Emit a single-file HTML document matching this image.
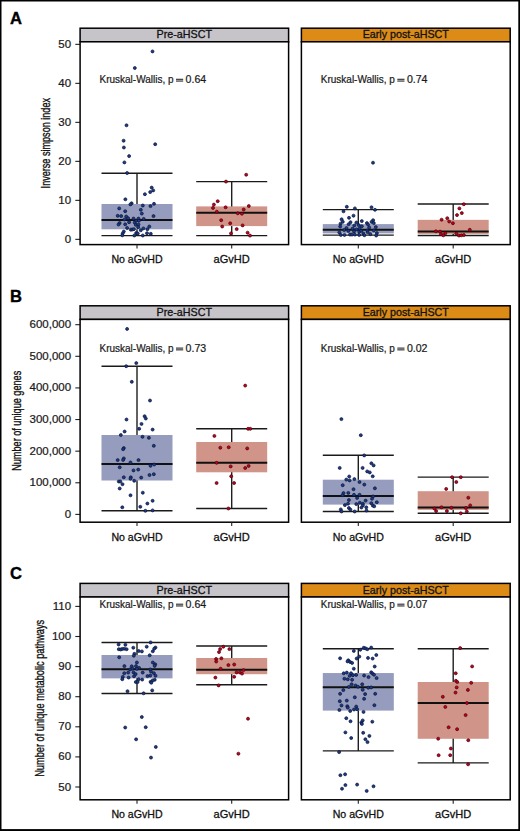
<!DOCTYPE html><html><head><meta charset="utf-8"><style>html,body{margin:0;padding:0;background:#fff;}svg{display:block;}</style></head><body><svg width="520" height="831" viewBox="0 0 520 831">
<rect x="0" y="0" width="520" height="831" fill="#fff"/>
<text x="10.0" y="24" font-family="'Liberation Sans', sans-serif" font-weight="bold" font-size="16.6" fill="#000" stroke="#000" stroke-width="0.35">A</text>
<text transform="translate(50.1,143.2) rotate(-90)" x="0" y="0" text-anchor="middle" font-family="'Liberation Sans', sans-serif" font-size="13" fill="#111" stroke="#111" stroke-width="0.35" textLength="90.4" lengthAdjust="spacingAndGlyphs">Inverse simpson index</text>
<line x1="75.3" y1="239.35" x2="80.1" y2="239.35" stroke="#222" stroke-width="1.1"/>
<text x="71.1" y="242.85" text-anchor="end" font-family="'Liberation Sans', sans-serif" font-size="10.8" fill="#1a1a1a" stroke="#1a1a1a" stroke-width="0.22" textLength="6.4" lengthAdjust="spacingAndGlyphs">0</text>
<line x1="75.3" y1="200.35" x2="80.1" y2="200.35" stroke="#222" stroke-width="1.1"/>
<text x="71.1" y="203.85" text-anchor="end" font-family="'Liberation Sans', sans-serif" font-size="10.8" fill="#1a1a1a" stroke="#1a1a1a" stroke-width="0.22" textLength="12.79" lengthAdjust="spacingAndGlyphs">10</text>
<line x1="75.3" y1="161.35" x2="80.1" y2="161.35" stroke="#222" stroke-width="1.1"/>
<text x="71.1" y="164.85" text-anchor="end" font-family="'Liberation Sans', sans-serif" font-size="10.8" fill="#1a1a1a" stroke="#1a1a1a" stroke-width="0.22" textLength="12.79" lengthAdjust="spacingAndGlyphs">20</text>
<line x1="75.3" y1="122.35" x2="80.1" y2="122.35" stroke="#222" stroke-width="1.1"/>
<text x="71.1" y="125.85" text-anchor="end" font-family="'Liberation Sans', sans-serif" font-size="10.8" fill="#1a1a1a" stroke="#1a1a1a" stroke-width="0.22" textLength="12.79" lengthAdjust="spacingAndGlyphs">30</text>
<line x1="75.3" y1="83.35" x2="80.1" y2="83.35" stroke="#222" stroke-width="1.1"/>
<text x="71.1" y="86.85" text-anchor="end" font-family="'Liberation Sans', sans-serif" font-size="10.8" fill="#1a1a1a" stroke="#1a1a1a" stroke-width="0.22" textLength="12.79" lengthAdjust="spacingAndGlyphs">40</text>
<line x1="75.3" y1="44.35" x2="80.1" y2="44.35" stroke="#222" stroke-width="1.1"/>
<text x="71.1" y="47.85" text-anchor="end" font-family="'Liberation Sans', sans-serif" font-size="10.8" fill="#1a1a1a" stroke="#1a1a1a" stroke-width="0.22" textLength="12.79" lengthAdjust="spacingAndGlyphs">50</text>
<rect x="80.1" y="28.2" width="208.5" height="13.6" fill="#c7c4c9" stroke="#000" stroke-width="1.5"/>
<text x="184.35" y="38.3" text-anchor="middle" font-family="'Liberation Sans', sans-serif" font-size="10.6" fill="#111" stroke="#111" stroke-width="0.3" textLength="55.6" lengthAdjust="spacingAndGlyphs">Pre-aHSCT</text>
<rect x="80.1" y="41.8" width="208.5" height="202.8" fill="#fff"/>
<text x="99.5" y="83" font-family="'Liberation Sans', sans-serif" font-size="10.4" fill="#1a1a1a" stroke="#1a1a1a" stroke-width="0.22" textLength="74.0" lengthAdjust="spacingAndGlyphs">Kruskal-Wallis, p</text>
<rect x="176" y="78.75" width="7.2" height="1.1" fill="#2a2a2a"/>
<rect x="176" y="80.5" width="7.2" height="1.1" fill="#2a2a2a"/>
<text x="185.6" y="83" font-family="'Liberation Sans', sans-serif" font-size="10.4" fill="#1a1a1a" stroke="#1a1a1a" stroke-width="0.22" textLength="20.6" lengthAdjust="spacingAndGlyphs">0.64</text>
<line x1="137" y1="173.2" x2="137" y2="235.6" stroke="#1e1e1e" stroke-width="1.4"/>
<line x1="101.5" y1="173.2" x2="172.5" y2="173.2" stroke="#1a1a1a" stroke-width="1.4"/>
<line x1="101.5" y1="235.6" x2="172.5" y2="235.6" stroke="#1a1a1a" stroke-width="1.4"/>
<rect x="101.5" y="204" width="71" height="25.3" fill="#959cbd"/>
<line x1="101.5" y1="220" x2="172.5" y2="220" stroke="#111" stroke-width="2"/>
<line x1="231.7" y1="181.6" x2="231.7" y2="235.6" stroke="#1e1e1e" stroke-width="1.4"/>
<line x1="196.2" y1="181.6" x2="267.2" y2="181.6" stroke="#1a1a1a" stroke-width="1.4"/>
<line x1="196.2" y1="235.6" x2="267.2" y2="235.6" stroke="#1a1a1a" stroke-width="1.4"/>
<rect x="196.2" y="206.4" width="71" height="19.7" fill="#d19488"/>
<line x1="196.2" y1="212.8" x2="267.2" y2="212.8" stroke="#111" stroke-width="2"/>
<g fill="#1c3b8a" stroke="#0a1434" stroke-width="0.7">
<circle cx="152.5" cy="51.4" r="1.5"/>
<circle cx="134.8" cy="68" r="1.5"/>
<circle cx="126.5" cy="125.3" r="1.5"/>
<circle cx="123.6" cy="140.7" r="1.5"/>
<circle cx="155.2" cy="144.2" r="1.5"/>
<circle cx="123.9" cy="147.5" r="1.5"/>
<circle cx="129.1" cy="156.1" r="1.5"/>
<circle cx="124.4" cy="162.4" r="1.5"/>
<circle cx="127.1" cy="173" r="1.5"/>
<circle cx="151.7" cy="187.6" r="1.5"/>
<circle cx="153.2" cy="190.4" r="1.5"/>
<circle cx="150.2" cy="192.1" r="1.5"/>
<circle cx="144.9" cy="194.2" r="1.5"/>
<circle cx="125.4" cy="199.3" r="1.5"/>
<circle cx="131.6" cy="203.3" r="1.5"/>
<circle cx="130.4" cy="204.4" r="1.5"/>
<circle cx="154" cy="203.8" r="1.5"/>
<circle cx="119.2" cy="208.4" r="1.5"/>
<circle cx="125.2" cy="211.2" r="1.5"/>
<circle cx="117.7" cy="215.8" r="1.5"/>
<circle cx="121.2" cy="216.1" r="1.5"/>
<circle cx="126.2" cy="216.5" r="1.5"/>
<circle cx="128.1" cy="218.2" r="1.5"/>
<circle cx="124.5" cy="219.5" r="1.5"/>
<circle cx="129.1" cy="222.2" r="1.5"/>
<circle cx="119.6" cy="223" r="1.5"/>
<circle cx="118.5" cy="224.5" r="1.5"/>
<circle cx="125.2" cy="224.3" r="1.5"/>
<circle cx="127.1" cy="228" r="1.5"/>
<circle cx="130.8" cy="229.7" r="1.5"/>
<circle cx="132.3" cy="229.5" r="1.5"/>
<circle cx="123.8" cy="231.5" r="1.5"/>
<circle cx="122.7" cy="233.4" r="1.5"/>
<circle cx="122.3" cy="235.3" r="1.5"/>
<circle cx="142.8" cy="205.5" r="1.5"/>
<circle cx="150.5" cy="206.1" r="1.5"/>
<circle cx="140.8" cy="209.8" r="1.5"/>
<circle cx="141.8" cy="213.6" r="1.5"/>
<circle cx="153.5" cy="216.1" r="1.5"/>
<circle cx="133.5" cy="218.6" r="1.5"/>
<circle cx="138.5" cy="218.6" r="1.5"/>
<circle cx="143.7" cy="218.9" r="1.5"/>
<circle cx="136.2" cy="220.7" r="1.5"/>
<circle cx="138.9" cy="220.7" r="1.5"/>
<circle cx="134.7" cy="222.6" r="1.5"/>
<circle cx="135.8" cy="224.8" r="1.5"/>
<circle cx="138.5" cy="224.5" r="1.5"/>
<circle cx="138.2" cy="227.2" r="1.5"/>
<circle cx="149.3" cy="226.5" r="1.5"/>
<circle cx="143.4" cy="228.4" r="1.5"/>
<circle cx="147.4" cy="229.2" r="1.5"/>
<circle cx="133.9" cy="229.2" r="1.5"/>
<circle cx="140.8" cy="230.3" r="1.5"/>
<circle cx="136.2" cy="233" r="1.5"/>
<circle cx="137.8" cy="233.5" r="1.5"/>
<circle cx="147" cy="233.2" r="1.5"/>
<circle cx="150.8" cy="233.8" r="1.5"/>
<circle cx="134.3" cy="235.5" r="1.5"/>
<circle cx="142.8" cy="235.5" r="1.5"/>
</g>
<g fill="#c4001a" stroke="#48000e" stroke-width="0.7">
<circle cx="246.2" cy="174.7" r="1.5"/>
<circle cx="226" cy="181.6" r="1.5"/>
<circle cx="217.7" cy="201.2" r="1.5"/>
<circle cx="213.9" cy="204.6" r="1.5"/>
<circle cx="213" cy="207.9" r="1.5"/>
<circle cx="225.6" cy="207.3" r="1.5"/>
<circle cx="216.8" cy="211.7" r="1.5"/>
<circle cx="248.8" cy="206" r="1.5"/>
<circle cx="243.7" cy="209.5" r="1.5"/>
<circle cx="237.8" cy="213.3" r="1.5"/>
<circle cx="241.9" cy="213.7" r="1.5"/>
<circle cx="221.2" cy="220.2" r="1.5"/>
<circle cx="230.2" cy="223.3" r="1.5"/>
<circle cx="222.2" cy="226.5" r="1.5"/>
<circle cx="242.6" cy="225.4" r="1.5"/>
<circle cx="236.7" cy="229.1" r="1.5"/>
<circle cx="231" cy="233.4" r="1.5"/>
<circle cx="247.6" cy="232.7" r="1.5"/>
<circle cx="250" cy="235.6" r="1.5"/>
</g>
<rect x="80.1" y="41.8" width="208.5" height="202.8" fill="none" stroke="#000" stroke-width="1.5"/>
<line x1="137" y1="244.6" x2="137" y2="248.5" stroke="#222" stroke-width="1.1"/>
<text x="137" y="263.2" text-anchor="middle" font-family="'Liberation Sans', sans-serif" font-size="10.4" fill="#111" stroke="#111" stroke-width="0.28" textLength="51.2" lengthAdjust="spacingAndGlyphs">No aGvHD</text>
<line x1="231.7" y1="244.6" x2="231.7" y2="248.5" stroke="#222" stroke-width="1.1"/>
<text x="231.7" y="263.2" text-anchor="middle" font-family="'Liberation Sans', sans-serif" font-size="10.4" fill="#111" stroke="#111" stroke-width="0.28" textLength="36.3" lengthAdjust="spacingAndGlyphs">aGvHD</text>
<rect x="301.4" y="28.2" width="208.8" height="13.6" fill="#dc8b17" stroke="#000" stroke-width="1.5"/>
<text x="405.8" y="38.3" text-anchor="middle" font-family="'Liberation Sans', sans-serif" font-size="10.6" fill="#111" stroke="#111" stroke-width="0.3" textLength="86.2" lengthAdjust="spacingAndGlyphs">Early post-aHSCT</text>
<rect x="301.4" y="41.8" width="208.8" height="202.8" fill="#fff"/>
<text x="320.8" y="83" font-family="'Liberation Sans', sans-serif" font-size="10.4" fill="#1a1a1a" stroke="#1a1a1a" stroke-width="0.22" textLength="74.0" lengthAdjust="spacingAndGlyphs">Kruskal-Wallis, p</text>
<rect x="397.3" y="78.75" width="7.2" height="1.1" fill="#2a2a2a"/>
<rect x="397.3" y="80.5" width="7.2" height="1.1" fill="#2a2a2a"/>
<text x="406.9" y="83" font-family="'Liberation Sans', sans-serif" font-size="10.4" fill="#1a1a1a" stroke="#1a1a1a" stroke-width="0.22" textLength="20.6" lengthAdjust="spacingAndGlyphs">0.74</text>
<line x1="358.3" y1="209.6" x2="358.3" y2="235.1" stroke="#1e1e1e" stroke-width="1.4"/>
<line x1="322.8" y1="209.6" x2="393.8" y2="209.6" stroke="#1a1a1a" stroke-width="1.4"/>
<line x1="322.8" y1="235.1" x2="393.8" y2="235.1" stroke="#1a1a1a" stroke-width="1.4"/>
<rect x="322.8" y="224.1" width="71" height="9.3" fill="#959cbd"/>
<line x1="322.8" y1="229.8" x2="393.8" y2="229.8" stroke="#111" stroke-width="2"/>
<line x1="453.2" y1="204" x2="453.2" y2="235.5" stroke="#1e1e1e" stroke-width="1.4"/>
<line x1="417.7" y1="204" x2="488.7" y2="204" stroke="#1a1a1a" stroke-width="1.4"/>
<line x1="417.7" y1="235.5" x2="488.7" y2="235.5" stroke="#1a1a1a" stroke-width="1.4"/>
<rect x="417.7" y="219.85" width="71" height="14.05" fill="#d19488"/>
<line x1="417.7" y1="231.45" x2="488.7" y2="231.45" stroke="#111" stroke-width="2"/>
<g fill="#1c3b8a" stroke="#0a1434" stroke-width="0.7">
<circle cx="373" cy="162.7" r="1.5"/>
<circle cx="346.8" cy="206.8" r="1.5"/>
<circle cx="354.9" cy="208.4" r="1.5"/>
<circle cx="343.5" cy="211.3" r="1.5"/>
<circle cx="353.5" cy="215.7" r="1.5"/>
<circle cx="349" cy="217.8" r="1.5"/>
<circle cx="341.6" cy="219.3" r="1.5"/>
<circle cx="342.8" cy="221.8" r="1.5"/>
<circle cx="361.8" cy="221.1" r="1.5"/>
<circle cx="350.5" cy="222.2" r="1.5"/>
<circle cx="356.4" cy="222.5" r="1.5"/>
<circle cx="340.5" cy="223.7" r="1.5"/>
<circle cx="348.6" cy="224.2" r="1.5"/>
<circle cx="340.2" cy="226.5" r="1.5"/>
<circle cx="354.3" cy="225.4" r="1.5"/>
<circle cx="358.7" cy="225.1" r="1.5"/>
<circle cx="361.8" cy="226.3" r="1.5"/>
<circle cx="346.5" cy="228" r="1.5"/>
<circle cx="352.6" cy="228.6" r="1.5"/>
<circle cx="356.4" cy="229.4" r="1.5"/>
<circle cx="359.5" cy="228.6" r="1.5"/>
<circle cx="344.2" cy="230" r="1.5"/>
<circle cx="348.3" cy="230.9" r="1.5"/>
<circle cx="354" cy="231.4" r="1.5"/>
<circle cx="339.3" cy="232.4" r="1.5"/>
<circle cx="359.2" cy="231.7" r="1.5"/>
<circle cx="363.3" cy="233.5" r="1.5"/>
<circle cx="340.8" cy="234.9" r="1.5"/>
<circle cx="344.5" cy="234.9" r="1.5"/>
<circle cx="350" cy="234.6" r="1.5"/>
<circle cx="352" cy="234.6" r="1.5"/>
<circle cx="354.9" cy="234.6" r="1.5"/>
<circle cx="359.2" cy="234.9" r="1.5"/>
<circle cx="364.4" cy="235.2" r="1.5"/>
<circle cx="371.5" cy="207.3" r="1.5"/>
<circle cx="375" cy="209.8" r="1.5"/>
<circle cx="373.1" cy="220.2" r="1.5"/>
<circle cx="371.5" cy="221.9" r="1.5"/>
<circle cx="373.8" cy="223.1" r="1.5"/>
<circle cx="366.9" cy="223.1" r="1.5"/>
<circle cx="368.1" cy="224.6" r="1.5"/>
<circle cx="375.8" cy="227.1" r="1.5"/>
<circle cx="369.2" cy="227.5" r="1.5"/>
<circle cx="367.3" cy="230.4" r="1.5"/>
<circle cx="373.8" cy="230.4" r="1.5"/>
<circle cx="361.2" cy="230.8" r="1.5"/>
<circle cx="367.7" cy="232.3" r="1.5"/>
<circle cx="376.9" cy="233.1" r="1.5"/>
<circle cx="370.4" cy="234.2" r="1.5"/>
<circle cx="376.2" cy="235.5" r="1.5"/>
</g>
<g fill="#c4001a" stroke="#48000e" stroke-width="0.7">
<circle cx="463.8" cy="204.2" r="1.5"/>
<circle cx="459.4" cy="208.4" r="1.5"/>
<circle cx="461.8" cy="213.1" r="1.5"/>
<circle cx="457" cy="215.1" r="1.5"/>
<circle cx="441.6" cy="219.7" r="1.5"/>
<circle cx="447.3" cy="218.2" r="1.5"/>
<circle cx="449.2" cy="221.5" r="1.5"/>
<circle cx="452.9" cy="223.2" r="1.5"/>
<circle cx="469.8" cy="229.8" r="1.5"/>
<circle cx="435.9" cy="231.3" r="1.5"/>
<circle cx="440" cy="231.6" r="1.5"/>
<circle cx="441" cy="234.2" r="1.5"/>
<circle cx="445.3" cy="233.3" r="1.5"/>
<circle cx="443.3" cy="235.3" r="1.5"/>
<circle cx="456.3" cy="233.6" r="1.5"/>
<circle cx="458.9" cy="235.5" r="1.5"/>
<circle cx="461.3" cy="235.3" r="1.5"/>
<circle cx="463.8" cy="235" r="1.5"/>
</g>
<rect x="301.4" y="41.8" width="208.8" height="202.8" fill="none" stroke="#000" stroke-width="1.5"/>
<line x1="358.3" y1="244.6" x2="358.3" y2="248.5" stroke="#222" stroke-width="1.1"/>
<text x="358.3" y="263.2" text-anchor="middle" font-family="'Liberation Sans', sans-serif" font-size="10.4" fill="#111" stroke="#111" stroke-width="0.28" textLength="51.2" lengthAdjust="spacingAndGlyphs">No aGvHD</text>
<line x1="453.2" y1="244.6" x2="453.2" y2="248.5" stroke="#222" stroke-width="1.1"/>
<text x="453.2" y="263.2" text-anchor="middle" font-family="'Liberation Sans', sans-serif" font-size="10.4" fill="#111" stroke="#111" stroke-width="0.28" textLength="36.3" lengthAdjust="spacingAndGlyphs">aGvHD</text>
<text x="10.0" y="301.6" font-family="'Liberation Sans', sans-serif" font-weight="bold" font-size="16.6" fill="#000" stroke="#000" stroke-width="0.35">B</text>
<text transform="translate(21.2,420.8) rotate(-90)" x="0" y="0" text-anchor="middle" font-family="'Liberation Sans', sans-serif" font-size="13" fill="#111" stroke="#111" stroke-width="0.35" textLength="100.0" lengthAdjust="spacingAndGlyphs">Number of unique genes</text>
<line x1="75.3" y1="514.4" x2="80.1" y2="514.4" stroke="#222" stroke-width="1.1"/>
<text x="71.1" y="517.9" text-anchor="end" font-family="'Liberation Sans', sans-serif" font-size="10.8" fill="#1a1a1a" stroke="#1a1a1a" stroke-width="0.22" textLength="6.4" lengthAdjust="spacingAndGlyphs">0</text>
<line x1="75.3" y1="482.78" x2="80.1" y2="482.78" stroke="#222" stroke-width="1.1"/>
<text x="71.1" y="486.28" text-anchor="end" font-family="'Liberation Sans', sans-serif" font-size="10.8" fill="#1a1a1a" stroke="#1a1a1a" stroke-width="0.22" textLength="41.57" lengthAdjust="spacingAndGlyphs">100,000</text>
<line x1="75.3" y1="451.16" x2="80.1" y2="451.16" stroke="#222" stroke-width="1.1"/>
<text x="71.1" y="454.66" text-anchor="end" font-family="'Liberation Sans', sans-serif" font-size="10.8" fill="#1a1a1a" stroke="#1a1a1a" stroke-width="0.22" textLength="41.57" lengthAdjust="spacingAndGlyphs">200,000</text>
<line x1="75.3" y1="419.54" x2="80.1" y2="419.54" stroke="#222" stroke-width="1.1"/>
<text x="71.1" y="423.04" text-anchor="end" font-family="'Liberation Sans', sans-serif" font-size="10.8" fill="#1a1a1a" stroke="#1a1a1a" stroke-width="0.22" textLength="41.57" lengthAdjust="spacingAndGlyphs">300,000</text>
<line x1="75.3" y1="387.92" x2="80.1" y2="387.92" stroke="#222" stroke-width="1.1"/>
<text x="71.1" y="391.42" text-anchor="end" font-family="'Liberation Sans', sans-serif" font-size="10.8" fill="#1a1a1a" stroke="#1a1a1a" stroke-width="0.22" textLength="41.57" lengthAdjust="spacingAndGlyphs">400,000</text>
<line x1="75.3" y1="356.3" x2="80.1" y2="356.3" stroke="#222" stroke-width="1.1"/>
<text x="71.1" y="359.8" text-anchor="end" font-family="'Liberation Sans', sans-serif" font-size="10.8" fill="#1a1a1a" stroke="#1a1a1a" stroke-width="0.22" textLength="41.57" lengthAdjust="spacingAndGlyphs">500,000</text>
<line x1="75.3" y1="324.68" x2="80.1" y2="324.68" stroke="#222" stroke-width="1.1"/>
<text x="71.1" y="328.18" text-anchor="end" font-family="'Liberation Sans', sans-serif" font-size="10.8" fill="#1a1a1a" stroke="#1a1a1a" stroke-width="0.22" textLength="41.57" lengthAdjust="spacingAndGlyphs">600,000</text>
<rect x="80.1" y="305.8" width="208.5" height="13.6" fill="#c7c4c9" stroke="#000" stroke-width="1.5"/>
<text x="184.35" y="315.9" text-anchor="middle" font-family="'Liberation Sans', sans-serif" font-size="10.6" fill="#111" stroke="#111" stroke-width="0.3" textLength="55.6" lengthAdjust="spacingAndGlyphs">Pre-aHSCT</text>
<rect x="80.1" y="319.4" width="208.5" height="202.8" fill="#fff"/>
<text x="99.5" y="351.8" font-family="'Liberation Sans', sans-serif" font-size="10.4" fill="#1a1a1a" stroke="#1a1a1a" stroke-width="0.22" textLength="74.0" lengthAdjust="spacingAndGlyphs">Kruskal-Wallis, p</text>
<rect x="176" y="347.55" width="7.2" height="1.1" fill="#2a2a2a"/>
<rect x="176" y="349.3" width="7.2" height="1.1" fill="#2a2a2a"/>
<text x="185.6" y="351.8" font-family="'Liberation Sans', sans-serif" font-size="10.4" fill="#1a1a1a" stroke="#1a1a1a" stroke-width="0.22" textLength="20.6" lengthAdjust="spacingAndGlyphs">0.73</text>
<line x1="137" y1="366.3" x2="137" y2="510.7" stroke="#1e1e1e" stroke-width="1.4"/>
<line x1="101.5" y1="366.3" x2="172.5" y2="366.3" stroke="#1a1a1a" stroke-width="1.4"/>
<line x1="101.5" y1="510.7" x2="172.5" y2="510.7" stroke="#1a1a1a" stroke-width="1.4"/>
<rect x="101.5" y="435" width="71" height="45.5" fill="#959cbd"/>
<line x1="101.5" y1="464" x2="172.5" y2="464" stroke="#111" stroke-width="2"/>
<line x1="231.7" y1="428.8" x2="231.7" y2="508.5" stroke="#1e1e1e" stroke-width="1.4"/>
<line x1="196.2" y1="428.8" x2="267.2" y2="428.8" stroke="#1a1a1a" stroke-width="1.4"/>
<line x1="196.2" y1="508.5" x2="267.2" y2="508.5" stroke="#1a1a1a" stroke-width="1.4"/>
<rect x="196.2" y="442" width="71" height="30.3" fill="#d19488"/>
<line x1="196.2" y1="462.8" x2="267.2" y2="462.8" stroke="#111" stroke-width="2"/>
<g fill="#1c3b8a" stroke="#0a1434" stroke-width="0.7">
<circle cx="127.1" cy="328.9" r="1.5"/>
<circle cx="136.3" cy="363.1" r="1.5"/>
<circle cx="126.2" cy="366.2" r="1.5"/>
<circle cx="131.8" cy="381.8" r="1.5"/>
<circle cx="150" cy="400.5" r="1.5"/>
<circle cx="144.6" cy="416.2" r="1.5"/>
<circle cx="145.8" cy="418.5" r="1.5"/>
<circle cx="126.5" cy="419.5" r="1.5"/>
<circle cx="141.5" cy="423.9" r="1.5"/>
<circle cx="139.2" cy="428.8" r="1.5"/>
<circle cx="152.6" cy="429.6" r="1.5"/>
<circle cx="124.6" cy="431.5" r="1.5"/>
<circle cx="120.8" cy="435" r="1.5"/>
<circle cx="142.5" cy="436.8" r="1.5"/>
<circle cx="148.9" cy="437.8" r="1.5"/>
<circle cx="153.8" cy="445.8" r="1.5"/>
<circle cx="123.8" cy="448.1" r="1.5"/>
<circle cx="123.1" cy="449.2" r="1.5"/>
<circle cx="123.8" cy="458.4" r="1.5"/>
<circle cx="123.1" cy="459.9" r="1.5"/>
<circle cx="117.7" cy="460.1" r="1.5"/>
<circle cx="138.5" cy="460.1" r="1.5"/>
<circle cx="130.5" cy="462.4" r="1.5"/>
<circle cx="119.7" cy="467.3" r="1.5"/>
<circle cx="150.5" cy="465.8" r="1.5"/>
<circle cx="154.2" cy="464.5" r="1.5"/>
<circle cx="133.5" cy="470.4" r="1.5"/>
<circle cx="138.2" cy="469.6" r="1.5"/>
<circle cx="149.5" cy="475" r="1.5"/>
<circle cx="153.8" cy="474.2" r="1.5"/>
<circle cx="123.8" cy="477.3" r="1.5"/>
<circle cx="130.8" cy="477.3" r="1.5"/>
<circle cx="130.5" cy="478.8" r="1.5"/>
<circle cx="141.2" cy="477.6" r="1.5"/>
<circle cx="134.2" cy="480.8" r="1.5"/>
<circle cx="118.8" cy="481.5" r="1.5"/>
<circle cx="120.3" cy="481.5" r="1.5"/>
<circle cx="122.5" cy="484.2" r="1.5"/>
<circle cx="119.7" cy="488.5" r="1.5"/>
<circle cx="142.8" cy="492.7" r="1.5"/>
<circle cx="130.5" cy="495.3" r="1.5"/>
<circle cx="152.6" cy="500.8" r="1.5"/>
<circle cx="147.4" cy="503.5" r="1.5"/>
<circle cx="122.3" cy="507.3" r="1.5"/>
<circle cx="140.3" cy="506.8" r="1.5"/>
<circle cx="145.4" cy="510.8" r="1.5"/>
<circle cx="152.6" cy="510.4" r="1.5"/>
</g>
<g fill="#c4001a" stroke="#48000e" stroke-width="0.7">
<circle cx="245.2" cy="385.6" r="1.5"/>
<circle cx="248.1" cy="428.8" r="1.5"/>
<circle cx="250.3" cy="428.8" r="1.5"/>
<circle cx="214.4" cy="435.9" r="1.5"/>
<circle cx="220.3" cy="447.7" r="1.5"/>
<circle cx="228.7" cy="447.3" r="1.5"/>
<circle cx="247.2" cy="448.4" r="1.5"/>
<circle cx="216.6" cy="462.8" r="1.5"/>
<circle cx="230.7" cy="466.4" r="1.5"/>
<circle cx="248.6" cy="465.9" r="1.5"/>
<circle cx="245.2" cy="468" r="1.5"/>
<circle cx="231.2" cy="476.3" r="1.5"/>
<circle cx="216.6" cy="483" r="1.5"/>
<circle cx="234.1" cy="483" r="1.5"/>
<circle cx="228.4" cy="508.5" r="1.5"/>
</g>
<rect x="80.1" y="319.4" width="208.5" height="202.8" fill="none" stroke="#000" stroke-width="1.5"/>
<line x1="137" y1="522.2" x2="137" y2="526.1" stroke="#222" stroke-width="1.1"/>
<text x="137" y="540.8" text-anchor="middle" font-family="'Liberation Sans', sans-serif" font-size="10.4" fill="#111" stroke="#111" stroke-width="0.28" textLength="51.2" lengthAdjust="spacingAndGlyphs">No aGvHD</text>
<line x1="231.7" y1="522.2" x2="231.7" y2="526.1" stroke="#222" stroke-width="1.1"/>
<text x="231.7" y="540.8" text-anchor="middle" font-family="'Liberation Sans', sans-serif" font-size="10.4" fill="#111" stroke="#111" stroke-width="0.28" textLength="36.3" lengthAdjust="spacingAndGlyphs">aGvHD</text>
<rect x="301.4" y="305.8" width="208.8" height="13.6" fill="#dc8b17" stroke="#000" stroke-width="1.5"/>
<text x="405.8" y="315.9" text-anchor="middle" font-family="'Liberation Sans', sans-serif" font-size="10.6" fill="#111" stroke="#111" stroke-width="0.3" textLength="86.2" lengthAdjust="spacingAndGlyphs">Early post-aHSCT</text>
<rect x="301.4" y="319.4" width="208.8" height="202.8" fill="#fff"/>
<text x="320.8" y="351.8" font-family="'Liberation Sans', sans-serif" font-size="10.4" fill="#1a1a1a" stroke="#1a1a1a" stroke-width="0.22" textLength="74.0" lengthAdjust="spacingAndGlyphs">Kruskal-Wallis, p</text>
<rect x="397.3" y="347.55" width="7.2" height="1.1" fill="#2a2a2a"/>
<rect x="397.3" y="349.3" width="7.2" height="1.1" fill="#2a2a2a"/>
<text x="406.9" y="351.8" font-family="'Liberation Sans', sans-serif" font-size="10.4" fill="#1a1a1a" stroke="#1a1a1a" stroke-width="0.22" textLength="20.6" lengthAdjust="spacingAndGlyphs">0.02</text>
<line x1="358.3" y1="455.3" x2="358.3" y2="511.55" stroke="#1e1e1e" stroke-width="1.4"/>
<line x1="322.8" y1="455.3" x2="393.8" y2="455.3" stroke="#1a1a1a" stroke-width="1.4"/>
<line x1="322.8" y1="511.55" x2="393.8" y2="511.55" stroke="#1a1a1a" stroke-width="1.4"/>
<rect x="322.8" y="479.7" width="71" height="24.9" fill="#959cbd"/>
<line x1="322.8" y1="495.9" x2="393.8" y2="495.9" stroke="#111" stroke-width="2"/>
<line x1="453.2" y1="477.15" x2="453.2" y2="513.2" stroke="#1e1e1e" stroke-width="1.4"/>
<line x1="417.7" y1="477.15" x2="488.7" y2="477.15" stroke="#1a1a1a" stroke-width="1.4"/>
<line x1="417.7" y1="513.2" x2="488.7" y2="513.2" stroke="#1a1a1a" stroke-width="1.4"/>
<rect x="417.7" y="491.2" width="71" height="18.7" fill="#d19488"/>
<line x1="417.7" y1="507.5" x2="488.7" y2="507.5" stroke="#111" stroke-width="2"/>
<g fill="#1c3b8a" stroke="#0a1434" stroke-width="0.7">
<circle cx="341.4" cy="419.1" r="1.5"/>
<circle cx="360.8" cy="435.2" r="1.5"/>
<circle cx="364.2" cy="455.4" r="1.5"/>
<circle cx="371.4" cy="463.3" r="1.5"/>
<circle cx="373.6" cy="465.4" r="1.5"/>
<circle cx="339.7" cy="467.9" r="1.5"/>
<circle cx="362.6" cy="467.9" r="1.5"/>
<circle cx="367.2" cy="471.4" r="1.5"/>
<circle cx="369.8" cy="472.4" r="1.5"/>
<circle cx="372.7" cy="476.3" r="1.5"/>
<circle cx="349.2" cy="476.5" r="1.5"/>
<circle cx="346.3" cy="479.6" r="1.5"/>
<circle cx="349.6" cy="480.4" r="1.5"/>
<circle cx="354.4" cy="479.1" r="1.5"/>
<circle cx="359.5" cy="482" r="1.5"/>
<circle cx="364.3" cy="484.6" r="1.5"/>
<circle cx="342.7" cy="485.2" r="1.5"/>
<circle cx="374.9" cy="488.3" r="1.5"/>
<circle cx="353.5" cy="489.2" r="1.5"/>
<circle cx="343.5" cy="493.1" r="1.5"/>
<circle cx="348.3" cy="492.9" r="1.5"/>
<circle cx="342.5" cy="495.2" r="1.5"/>
<circle cx="354" cy="494.8" r="1.5"/>
<circle cx="359.5" cy="494.8" r="1.5"/>
<circle cx="357.1" cy="497.9" r="1.5"/>
<circle cx="373" cy="496.4" r="1.5"/>
<circle cx="372" cy="498.7" r="1.5"/>
<circle cx="348.9" cy="500" r="1.5"/>
<circle cx="365.6" cy="500.6" r="1.5"/>
<circle cx="376.8" cy="502.2" r="1.5"/>
<circle cx="371.3" cy="503.2" r="1.5"/>
<circle cx="348" cy="503.7" r="1.5"/>
<circle cx="344.9" cy="505.1" r="1.5"/>
<circle cx="356.3" cy="504.1" r="1.5"/>
<circle cx="359.8" cy="502.7" r="1.5"/>
<circle cx="362.9" cy="503.7" r="1.5"/>
<circle cx="362.9" cy="505.4" r="1.5"/>
<circle cx="372.8" cy="505.6" r="1.5"/>
<circle cx="374.2" cy="506.3" r="1.5"/>
<circle cx="361.4" cy="507.5" r="1.5"/>
<circle cx="366.3" cy="507.3" r="1.5"/>
<circle cx="348.9" cy="508" r="1.5"/>
<circle cx="350.4" cy="509.6" r="1.5"/>
<circle cx="340.8" cy="509.4" r="1.5"/>
<circle cx="341.5" cy="511.5" r="1.5"/>
<circle cx="354.7" cy="511.5" r="1.5"/>
<circle cx="366.5" cy="510.6" r="1.5"/>
</g>
<g fill="#c4001a" stroke="#48000e" stroke-width="0.7">
<circle cx="452.1" cy="477.2" r="1.5"/>
<circle cx="460.8" cy="477.2" r="1.5"/>
<circle cx="456.3" cy="482" r="1.5"/>
<circle cx="446.2" cy="488.9" r="1.5"/>
<circle cx="468.3" cy="497.7" r="1.5"/>
<circle cx="470.2" cy="505.4" r="1.5"/>
<circle cx="441.5" cy="507.3" r="1.5"/>
<circle cx="451.4" cy="507.8" r="1.5"/>
<circle cx="465.9" cy="508" r="1.5"/>
<circle cx="434.4" cy="508.5" r="1.5"/>
<circle cx="436.1" cy="511.1" r="1.5"/>
<circle cx="446.9" cy="511.1" r="1.5"/>
<circle cx="466.8" cy="511.5" r="1.5"/>
<circle cx="460.8" cy="513.3" r="1.5"/>
</g>
<rect x="301.4" y="319.4" width="208.8" height="202.8" fill="none" stroke="#000" stroke-width="1.5"/>
<line x1="358.3" y1="522.2" x2="358.3" y2="526.1" stroke="#222" stroke-width="1.1"/>
<text x="358.3" y="540.8" text-anchor="middle" font-family="'Liberation Sans', sans-serif" font-size="10.4" fill="#111" stroke="#111" stroke-width="0.28" textLength="51.2" lengthAdjust="spacingAndGlyphs">No aGvHD</text>
<line x1="453.2" y1="522.2" x2="453.2" y2="526.1" stroke="#222" stroke-width="1.1"/>
<text x="453.2" y="540.8" text-anchor="middle" font-family="'Liberation Sans', sans-serif" font-size="10.4" fill="#111" stroke="#111" stroke-width="0.28" textLength="36.3" lengthAdjust="spacingAndGlyphs">aGvHD</text>
<text x="10.0" y="579" font-family="'Liberation Sans', sans-serif" font-weight="bold" font-size="16.6" fill="#000" stroke="#000" stroke-width="0.35">C</text>
<text transform="translate(43.9,698.3) rotate(-90)" x="0" y="0" text-anchor="middle" font-family="'Liberation Sans', sans-serif" font-size="13" fill="#111" stroke="#111" stroke-width="0.35" textLength="157.0" lengthAdjust="spacingAndGlyphs">Number of unique metabolic pathways</text>
<line x1="75.3" y1="787" x2="80.1" y2="787" stroke="#222" stroke-width="1.1"/>
<text x="71.1" y="790.5" text-anchor="end" font-family="'Liberation Sans', sans-serif" font-size="10.8" fill="#1a1a1a" stroke="#1a1a1a" stroke-width="0.22" textLength="12.79" lengthAdjust="spacingAndGlyphs">50</text>
<line x1="75.3" y1="756.9" x2="80.1" y2="756.9" stroke="#222" stroke-width="1.1"/>
<text x="71.1" y="760.4" text-anchor="end" font-family="'Liberation Sans', sans-serif" font-size="10.8" fill="#1a1a1a" stroke="#1a1a1a" stroke-width="0.22" textLength="12.79" lengthAdjust="spacingAndGlyphs">60</text>
<line x1="75.3" y1="726.8" x2="80.1" y2="726.8" stroke="#222" stroke-width="1.1"/>
<text x="71.1" y="730.3" text-anchor="end" font-family="'Liberation Sans', sans-serif" font-size="10.8" fill="#1a1a1a" stroke="#1a1a1a" stroke-width="0.22" textLength="12.79" lengthAdjust="spacingAndGlyphs">70</text>
<line x1="75.3" y1="696.7" x2="80.1" y2="696.7" stroke="#222" stroke-width="1.1"/>
<text x="71.1" y="700.2" text-anchor="end" font-family="'Liberation Sans', sans-serif" font-size="10.8" fill="#1a1a1a" stroke="#1a1a1a" stroke-width="0.22" textLength="12.79" lengthAdjust="spacingAndGlyphs">80</text>
<line x1="75.3" y1="666.6" x2="80.1" y2="666.6" stroke="#222" stroke-width="1.1"/>
<text x="71.1" y="670.1" text-anchor="end" font-family="'Liberation Sans', sans-serif" font-size="10.8" fill="#1a1a1a" stroke="#1a1a1a" stroke-width="0.22" textLength="12.79" lengthAdjust="spacingAndGlyphs">90</text>
<line x1="75.3" y1="636.5" x2="80.1" y2="636.5" stroke="#222" stroke-width="1.1"/>
<text x="71.1" y="640" text-anchor="end" font-family="'Liberation Sans', sans-serif" font-size="10.8" fill="#1a1a1a" stroke="#1a1a1a" stroke-width="0.22" textLength="19.19" lengthAdjust="spacingAndGlyphs">100</text>
<line x1="75.3" y1="606.4" x2="80.1" y2="606.4" stroke="#222" stroke-width="1.1"/>
<text x="71.1" y="609.9" text-anchor="end" font-family="'Liberation Sans', sans-serif" font-size="10.8" fill="#1a1a1a" stroke="#1a1a1a" stroke-width="0.22" textLength="18.33" lengthAdjust="spacingAndGlyphs">110</text>
<rect x="80.1" y="583.4" width="208.5" height="13.6" fill="#c7c4c9" stroke="#000" stroke-width="1.5"/>
<text x="184.35" y="593.5" text-anchor="middle" font-family="'Liberation Sans', sans-serif" font-size="10.6" fill="#111" stroke="#111" stroke-width="0.3" textLength="55.6" lengthAdjust="spacingAndGlyphs">Pre-aHSCT</text>
<rect x="80.1" y="597" width="208.5" height="202.8" fill="#fff"/>
<text x="99.5" y="607.9" font-family="'Liberation Sans', sans-serif" font-size="10.4" fill="#1a1a1a" stroke="#1a1a1a" stroke-width="0.22" textLength="74.0" lengthAdjust="spacingAndGlyphs">Kruskal-Wallis, p</text>
<rect x="176" y="603.65" width="7.2" height="1.1" fill="#2a2a2a"/>
<rect x="176" y="605.4" width="7.2" height="1.1" fill="#2a2a2a"/>
<text x="185.6" y="607.9" font-family="'Liberation Sans', sans-serif" font-size="10.4" fill="#1a1a1a" stroke="#1a1a1a" stroke-width="0.22" textLength="20.6" lengthAdjust="spacingAndGlyphs">0.64</text>
<line x1="137" y1="642.5" x2="137" y2="693.5" stroke="#1e1e1e" stroke-width="1.4"/>
<line x1="101.5" y1="642.5" x2="172.5" y2="642.5" stroke="#1a1a1a" stroke-width="1.4"/>
<line x1="101.5" y1="693.5" x2="172.5" y2="693.5" stroke="#1a1a1a" stroke-width="1.4"/>
<rect x="101.5" y="655" width="71" height="23.35" fill="#959cbd"/>
<line x1="101.5" y1="669.2" x2="172.5" y2="669.2" stroke="#111" stroke-width="2"/>
<line x1="231.7" y1="646" x2="231.7" y2="684.8" stroke="#1e1e1e" stroke-width="1.4"/>
<line x1="196.2" y1="646" x2="267.2" y2="646" stroke="#1a1a1a" stroke-width="1.4"/>
<line x1="196.2" y1="684.8" x2="267.2" y2="684.8" stroke="#1a1a1a" stroke-width="1.4"/>
<rect x="196.2" y="658" width="71" height="16.2" fill="#d19488"/>
<line x1="196.2" y1="669.7" x2="267.2" y2="669.7" stroke="#111" stroke-width="2"/>
<g fill="#1c3b8a" stroke="#0a1434" stroke-width="0.7">
<circle cx="141.8" cy="717" r="1.5"/>
<circle cx="125.2" cy="727.5" r="1.5"/>
<circle cx="145.7" cy="727.2" r="1.5"/>
<circle cx="136.1" cy="739.3" r="1.5"/>
<circle cx="155.8" cy="746.9" r="1.5"/>
<circle cx="151" cy="757.6" r="1.5"/>
<circle cx="118.6" cy="644.5" r="1.5"/>
<circle cx="125.4" cy="644.8" r="1.5"/>
<circle cx="118.8" cy="649.2" r="1.5"/>
<circle cx="120.7" cy="649.5" r="1.5"/>
<circle cx="122.3" cy="648.9" r="1.5"/>
<circle cx="124.3" cy="648.7" r="1.5"/>
<circle cx="126.6" cy="649.2" r="1.5"/>
<circle cx="133.3" cy="647.7" r="1.5"/>
<circle cx="138.7" cy="651" r="1.5"/>
<circle cx="134.4" cy="653.8" r="1.5"/>
<circle cx="133.8" cy="655.7" r="1.5"/>
<circle cx="119.2" cy="657.3" r="1.5"/>
<circle cx="136.9" cy="662.5" r="1.5"/>
<circle cx="124.4" cy="666.1" r="1.5"/>
<circle cx="131.7" cy="666.3" r="1.5"/>
<circle cx="136" cy="666.1" r="1.5"/>
<circle cx="139.1" cy="667.9" r="1.5"/>
<circle cx="130.1" cy="669.4" r="1.5"/>
<circle cx="132.5" cy="668.6" r="1.5"/>
<circle cx="136.8" cy="668.8" r="1.5"/>
<circle cx="128.2" cy="672.6" r="1.5"/>
<circle cx="124.3" cy="673.2" r="1.5"/>
<circle cx="133.5" cy="672.4" r="1.5"/>
<circle cx="135.6" cy="674.1" r="1.5"/>
<circle cx="134" cy="676.3" r="1.5"/>
<circle cx="122.8" cy="676.9" r="1.5"/>
<circle cx="122.3" cy="679.2" r="1.5"/>
<circle cx="128.6" cy="677.6" r="1.5"/>
<circle cx="138.7" cy="679.2" r="1.5"/>
<circle cx="135.8" cy="682" r="1.5"/>
<circle cx="137.6" cy="682" r="1.5"/>
<circle cx="127.5" cy="691.2" r="1.5"/>
<circle cx="150.6" cy="642.4" r="1.5"/>
<circle cx="146.7" cy="646.7" r="1.5"/>
<circle cx="155.5" cy="647.5" r="1.5"/>
<circle cx="154.2" cy="648.7" r="1.5"/>
<circle cx="152.8" cy="651.3" r="1.5"/>
<circle cx="141.9" cy="651.4" r="1.5"/>
<circle cx="149.7" cy="655.3" r="1.5"/>
<circle cx="152.8" cy="662.5" r="1.5"/>
<circle cx="155.2" cy="664.3" r="1.5"/>
<circle cx="154.6" cy="665.9" r="1.5"/>
<circle cx="150.3" cy="669.4" r="1.5"/>
<circle cx="151" cy="671.6" r="1.5"/>
<circle cx="142.7" cy="672.6" r="1.5"/>
<circle cx="153.9" cy="673.2" r="1.5"/>
<circle cx="147.5" cy="676.1" r="1.5"/>
<circle cx="150.3" cy="675.5" r="1.5"/>
<circle cx="155.5" cy="675.7" r="1.5"/>
<circle cx="142.2" cy="679.6" r="1.5"/>
<circle cx="154.7" cy="679.8" r="1.5"/>
<circle cx="152.6" cy="680.5" r="1.5"/>
<circle cx="150.6" cy="681.8" r="1.5"/>
<circle cx="151.3" cy="682.7" r="1.5"/>
<circle cx="152.2" cy="690.4" r="1.5"/>
<circle cx="143.6" cy="693.3" r="1.5"/>
</g>
<g fill="#c4001a" stroke="#48000e" stroke-width="0.7">
<circle cx="223.3" cy="646.7" r="1.5"/>
<circle cx="220.1" cy="649.1" r="1.5"/>
<circle cx="229.4" cy="649.1" r="1.5"/>
<circle cx="219" cy="652.1" r="1.5"/>
<circle cx="216.1" cy="658.9" r="1.5"/>
<circle cx="221.4" cy="658.3" r="1.5"/>
<circle cx="216.2" cy="661.5" r="1.5"/>
<circle cx="228.4" cy="665.1" r="1.5"/>
<circle cx="234.2" cy="664.5" r="1.5"/>
<circle cx="220.6" cy="668.7" r="1.5"/>
<circle cx="243.5" cy="670.1" r="1.5"/>
<circle cx="236.6" cy="672.4" r="1.5"/>
<circle cx="240" cy="672.4" r="1.5"/>
<circle cx="242" cy="673.6" r="1.5"/>
<circle cx="234.2" cy="676.8" r="1.5"/>
<circle cx="215.4" cy="677.6" r="1.5"/>
<circle cx="218.6" cy="685.4" r="1.5"/>
<circle cx="248" cy="718.7" r="1.5"/>
<circle cx="238.4" cy="753.7" r="1.5"/>
</g>
<rect x="80.1" y="597" width="208.5" height="202.8" fill="none" stroke="#000" stroke-width="1.5"/>
<line x1="137" y1="799.8" x2="137" y2="803.7" stroke="#222" stroke-width="1.1"/>
<text x="137" y="818.4" text-anchor="middle" font-family="'Liberation Sans', sans-serif" font-size="10.4" fill="#111" stroke="#111" stroke-width="0.28" textLength="51.2" lengthAdjust="spacingAndGlyphs">No aGvHD</text>
<line x1="231.7" y1="799.8" x2="231.7" y2="803.7" stroke="#222" stroke-width="1.1"/>
<text x="231.7" y="818.4" text-anchor="middle" font-family="'Liberation Sans', sans-serif" font-size="10.4" fill="#111" stroke="#111" stroke-width="0.28" textLength="36.3" lengthAdjust="spacingAndGlyphs">aGvHD</text>
<rect x="301.4" y="583.4" width="208.8" height="13.6" fill="#dc8b17" stroke="#000" stroke-width="1.5"/>
<text x="405.8" y="593.5" text-anchor="middle" font-family="'Liberation Sans', sans-serif" font-size="10.6" fill="#111" stroke="#111" stroke-width="0.3" textLength="86.2" lengthAdjust="spacingAndGlyphs">Early post-aHSCT</text>
<rect x="301.4" y="597" width="208.8" height="202.8" fill="#fff"/>
<text x="320.8" y="607.9" font-family="'Liberation Sans', sans-serif" font-size="10.4" fill="#1a1a1a" stroke="#1a1a1a" stroke-width="0.22" textLength="74.0" lengthAdjust="spacingAndGlyphs">Kruskal-Wallis, p</text>
<rect x="397.3" y="603.65" width="7.2" height="1.1" fill="#2a2a2a"/>
<rect x="397.3" y="605.4" width="7.2" height="1.1" fill="#2a2a2a"/>
<text x="406.9" y="607.9" font-family="'Liberation Sans', sans-serif" font-size="10.4" fill="#1a1a1a" stroke="#1a1a1a" stroke-width="0.22" textLength="20.6" lengthAdjust="spacingAndGlyphs">0.07</text>
<line x1="358.3" y1="648.7" x2="358.3" y2="750.9" stroke="#1e1e1e" stroke-width="1.4"/>
<line x1="322.8" y1="648.7" x2="393.8" y2="648.7" stroke="#1a1a1a" stroke-width="1.4"/>
<line x1="322.8" y1="750.9" x2="393.8" y2="750.9" stroke="#1a1a1a" stroke-width="1.4"/>
<rect x="322.8" y="673.05" width="71" height="37.55" fill="#959cbd"/>
<line x1="322.8" y1="687.2" x2="393.8" y2="687.2" stroke="#111" stroke-width="2"/>
<line x1="453.2" y1="648.7" x2="453.2" y2="762.9" stroke="#1e1e1e" stroke-width="1.4"/>
<line x1="417.7" y1="648.7" x2="488.7" y2="648.7" stroke="#1a1a1a" stroke-width="1.4"/>
<line x1="417.7" y1="762.9" x2="488.7" y2="762.9" stroke="#1a1a1a" stroke-width="1.4"/>
<rect x="417.7" y="682" width="71" height="56.8" fill="#d19488"/>
<line x1="417.7" y1="703" x2="488.7" y2="703" stroke="#111" stroke-width="2"/>
<g fill="#1c3b8a" stroke="#0a1434" stroke-width="0.7">
<circle cx="363.7" cy="647.8" r="1.5"/>
<circle cx="365.4" cy="648.3" r="1.5"/>
<circle cx="367.3" cy="649.2" r="1.5"/>
<circle cx="371.2" cy="647.6" r="1.5"/>
<circle cx="360.3" cy="649.7" r="1.5"/>
<circle cx="353.8" cy="650.9" r="1.5"/>
<circle cx="376.3" cy="655" r="1.5"/>
<circle cx="359.3" cy="656.6" r="1.5"/>
<circle cx="356.7" cy="658.5" r="1.5"/>
<circle cx="340.1" cy="658.3" r="1.5"/>
<circle cx="368" cy="657.9" r="1.5"/>
<circle cx="372.6" cy="658.6" r="1.5"/>
<circle cx="348.3" cy="660.3" r="1.5"/>
<circle cx="347.5" cy="661.4" r="1.5"/>
<circle cx="350.2" cy="662" r="1.5"/>
<circle cx="352.1" cy="662.9" r="1.5"/>
<circle cx="374.7" cy="666.5" r="1.5"/>
<circle cx="353.8" cy="668.7" r="1.5"/>
<circle cx="371.2" cy="672.3" r="1.5"/>
<circle cx="372.5" cy="673.5" r="1.5"/>
<circle cx="374" cy="674.7" r="1.5"/>
<circle cx="343.7" cy="673.3" r="1.5"/>
<circle cx="346.8" cy="672.6" r="1.5"/>
<circle cx="351" cy="673.3" r="1.5"/>
<circle cx="352.9" cy="675.2" r="1.5"/>
<circle cx="356.2" cy="674.9" r="1.5"/>
<circle cx="349.7" cy="675.8" r="1.5"/>
<circle cx="364.1" cy="675.5" r="1.5"/>
<circle cx="368.5" cy="677.1" r="1.5"/>
<circle cx="376.6" cy="678.1" r="1.5"/>
<circle cx="344.4" cy="678.7" r="1.5"/>
<circle cx="347.8" cy="679.3" r="1.5"/>
<circle cx="352.1" cy="679.8" r="1.5"/>
<circle cx="351.6" cy="684.3" r="1.5"/>
<circle cx="348.8" cy="686.9" r="1.5"/>
<circle cx="355.5" cy="685.5" r="1.5"/>
<circle cx="357.9" cy="686.7" r="1.5"/>
<circle cx="362.2" cy="684.3" r="1.5"/>
<circle cx="368.3" cy="687.7" r="1.5"/>
<circle cx="371.2" cy="687.4" r="1.5"/>
<circle cx="343.3" cy="690.1" r="1.5"/>
<circle cx="362.7" cy="689.8" r="1.5"/>
<circle cx="340.1" cy="693.8" r="1.5"/>
<circle cx="365.1" cy="694.1" r="1.5"/>
<circle cx="375.2" cy="693.8" r="1.5"/>
<circle cx="354.8" cy="697.3" r="1.5"/>
<circle cx="364.1" cy="698.8" r="1.5"/>
<circle cx="339.8" cy="701.2" r="1.5"/>
<circle cx="346.8" cy="700.6" r="1.5"/>
<circle cx="341.5" cy="705.4" r="1.5"/>
<circle cx="347.3" cy="706.2" r="1.5"/>
<circle cx="347.8" cy="707.6" r="1.5"/>
<circle cx="356.2" cy="706.6" r="1.5"/>
<circle cx="374.4" cy="705.2" r="1.5"/>
<circle cx="339.4" cy="710" r="1.5"/>
<circle cx="350.2" cy="711" r="1.5"/>
<circle cx="354" cy="709.5" r="1.5"/>
<circle cx="357.1" cy="709.2" r="1.5"/>
<circle cx="363.5" cy="711.9" r="1.5"/>
<circle cx="346.3" cy="718.2" r="1.5"/>
<circle cx="350.5" cy="721.3" r="1.5"/>
<circle cx="362.7" cy="720.4" r="1.5"/>
<circle cx="361.3" cy="722.5" r="1.5"/>
<circle cx="361.9" cy="723.9" r="1.5"/>
<circle cx="372.3" cy="721.7" r="1.5"/>
<circle cx="345.4" cy="732.4" r="1.5"/>
<circle cx="363.2" cy="732.8" r="1.5"/>
<circle cx="351.2" cy="738" r="1.5"/>
<circle cx="369.4" cy="735.9" r="1.5"/>
<circle cx="365.4" cy="739.2" r="1.5"/>
<circle cx="367.5" cy="742.1" r="1.5"/>
<circle cx="339.1" cy="752.1" r="1.5"/>
<circle cx="340.4" cy="775.2" r="1.5"/>
<circle cx="345.1" cy="774.3" r="1.5"/>
<circle cx="345.4" cy="785.1" r="1.5"/>
<circle cx="357.1" cy="784.6" r="1.5"/>
<circle cx="342" cy="788.7" r="1.5"/>
<circle cx="373.5" cy="786.3" r="1.5"/>
<circle cx="366.7" cy="790.9" r="1.5"/>
</g>
<g fill="#c4001a" stroke="#48000e" stroke-width="0.7">
<circle cx="460.2" cy="648.1" r="1.5"/>
<circle cx="472.1" cy="666.4" r="1.5"/>
<circle cx="455.7" cy="673.3" r="1.5"/>
<circle cx="455.9" cy="680.8" r="1.5"/>
<circle cx="457.3" cy="682" r="1.5"/>
<circle cx="471.2" cy="682.8" r="1.5"/>
<circle cx="456.7" cy="687.4" r="1.5"/>
<circle cx="467.9" cy="689.9" r="1.5"/>
<circle cx="455.5" cy="692.6" r="1.5"/>
<circle cx="442.8" cy="696.8" r="1.5"/>
<circle cx="466.9" cy="703" r="1.5"/>
<circle cx="445.3" cy="706.9" r="1.5"/>
<circle cx="465.6" cy="715.1" r="1.5"/>
<circle cx="448.6" cy="727.3" r="1.5"/>
<circle cx="457.1" cy="729.2" r="1.5"/>
<circle cx="438.2" cy="738.7" r="1.5"/>
<circle cx="468.3" cy="740.2" r="1.5"/>
<circle cx="450.9" cy="748.5" r="1.5"/>
<circle cx="438.6" cy="755.2" r="1.5"/>
<circle cx="450.2" cy="755.2" r="1.5"/>
<circle cx="468.1" cy="764.3" r="1.5"/>
</g>
<rect x="301.4" y="597" width="208.8" height="202.8" fill="none" stroke="#000" stroke-width="1.5"/>
<line x1="358.3" y1="799.8" x2="358.3" y2="803.7" stroke="#222" stroke-width="1.1"/>
<text x="358.3" y="818.4" text-anchor="middle" font-family="'Liberation Sans', sans-serif" font-size="10.4" fill="#111" stroke="#111" stroke-width="0.28" textLength="51.2" lengthAdjust="spacingAndGlyphs">No aGvHD</text>
<line x1="453.2" y1="799.8" x2="453.2" y2="803.7" stroke="#222" stroke-width="1.1"/>
<text x="453.2" y="818.4" text-anchor="middle" font-family="'Liberation Sans', sans-serif" font-size="10.4" fill="#111" stroke="#111" stroke-width="0.28" textLength="36.3" lengthAdjust="spacingAndGlyphs">aGvHD</text>
<rect x="0" y="0" width="1.5" height="831" fill="#000"/>
<rect x="0" y="0" width="520" height="1.5" fill="#000"/>
<rect x="518.3" y="0" width="1.7" height="831" fill="#000"/>
<rect x="0" y="829.1" width="520" height="1.9" fill="#000"/>
</svg></body></html>
